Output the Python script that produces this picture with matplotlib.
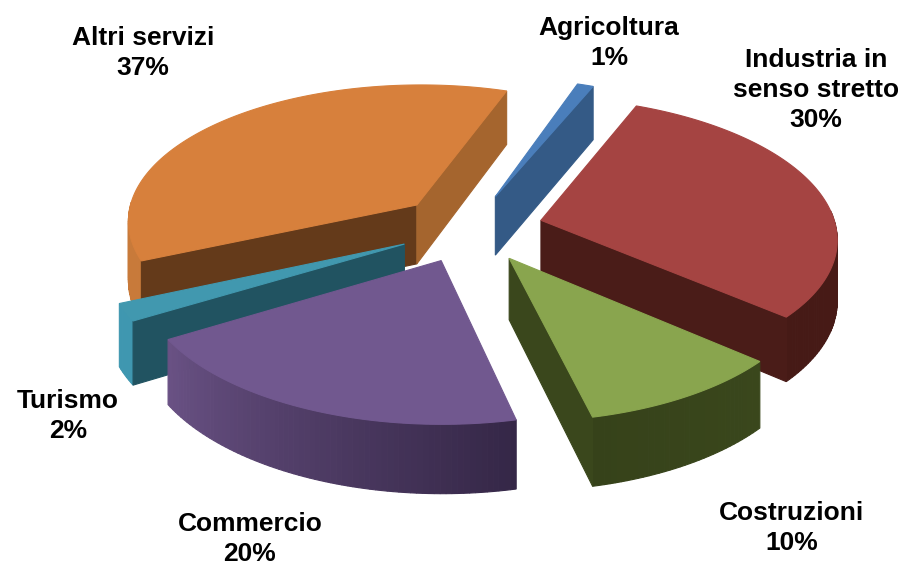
import numpy as np
import matplotlib
matplotlib.use('Agg')
import matplotlib.pyplot as plt

categories = ['Agricoltura', 'Industria in\nsenso stretto', 'Costruzioni', 'Commercio', 'Turismo', 'Altri servizi']
shares = [1, 30, 10, 20, 2, 37]

top_colors = ['#4a7ebb', '#a54442', '#89a54e', '#71588f', '#4198af', '#d7803c']
side_colors = ['#345a86', '#4a1c18', '#3a471c', '#352747', '#3f97b0', '#c87a3a']
side_colors_end = ['#345a86', '#461a16', '#36421a', '#6a5285', '#3f97b0', '#c87a3a']
cut_start_colors = ['#345a86', '#4a1c18', '#3a471c', '#352747', '#215361', '#643a1a']
cut_end_colors = ['#345a86', '#4a1c18', '#3a471c', '#352747', '#215361', '#a5652e']
label_x = [609, 816, 792, 250, 68, 143]
label_y = [42, 89, 527, 538, 415, 52]

# pie geometry, screen px
START_ANGLE = 21.5
CX, CY = 470, 228
A, B = 293, 138
PERSP = 0.11
ROLL = -5
SHEAR = 13
HEIGHT = 60
EXPLODE = 0.25
DRAW_ORDER = [5, 0, 1, 4, 2, 3]


def project(x, y, z=0.0):
    w = 1 + PERSP * y
    return CX + (A * x - SHEAR * y) / w, CY + (ROLL * x - B * y + z) / w


def mix(c1, c2, t):
    a = np.array(matplotlib.colors.to_rgb(c1))
    b = np.array(matplotlib.colors.to_rgb(c2))
    return tuple(a + (b - a) * t)


def draw_face(ax, pts, color):
    ax.fill([p[0] for p in pts], [p[1] for p in pts], color=color, lw=0.8)


def draw_slice(ax, i, a0, a1):
    mid = np.radians((a0 + a1) / 2)
    ox, oy = EXPLODE * np.sin(mid), EXPLODE * np.cos(mid)
    th = np.radians(np.linspace(a0, a1, max(int(a1 - a0), 2) + 1))
    xs = ox + np.sin(th)
    ys = oy + np.cos(th)

    # outer wall, only the part turned to the viewer
    for k in range(len(th) - 1):
        if np.cos(th[k]) < 0.05:
            t = k / (len(th) - 1)
            draw_face(ax, [project(xs[k], ys[k]), project(xs[k + 1], ys[k + 1]),
                           project(xs[k + 1], ys[k + 1], HEIGHT), project(xs[k], ys[k], HEIGHT)],
                      mix(side_colors[i], side_colors_end[i], t))

    # cut faces
    if np.sin(th[0]) < 0:
        draw_face(ax, [project(ox, oy), project(xs[0], ys[0]),
                       project(xs[0], ys[0], HEIGHT), project(ox, oy, HEIGHT)], cut_start_colors[i])
    if np.sin(th[-1]) > 0:
        draw_face(ax, [project(ox, oy), project(xs[-1], ys[-1]),
                       project(xs[-1], ys[-1], HEIGHT), project(ox, oy, HEIGHT)], cut_end_colors[i])

    top = [project(ox, oy)] + [project(x, y) for x, y in zip(xs, ys)]
    draw_face(ax, top, top_colors[i])


fig = plt.figure(figsize=(9.02, 5.66), dpi=100)
ax = fig.add_axes([0, 0, 1, 1])
ax.set_xlim(0, 902)
ax.set_ylim(566, 0)
ax.axis('off')

edges = START_ANGLE + np.cumsum([0] + shares) * 3.6
for i in DRAW_ORDER:
    draw_slice(ax, i, edges[i], edges[i + 1])

for name, v, x, y in zip(categories, shares, label_x, label_y):
    ax.text(x, y + 1, f'{name}\n{v}%', ha='center', va='center', family='Liberation Sans',
            fontweight='bold', fontsize=19, linespacing=1.33, color='black')

fig.savefig('out.png', dpi=100)
